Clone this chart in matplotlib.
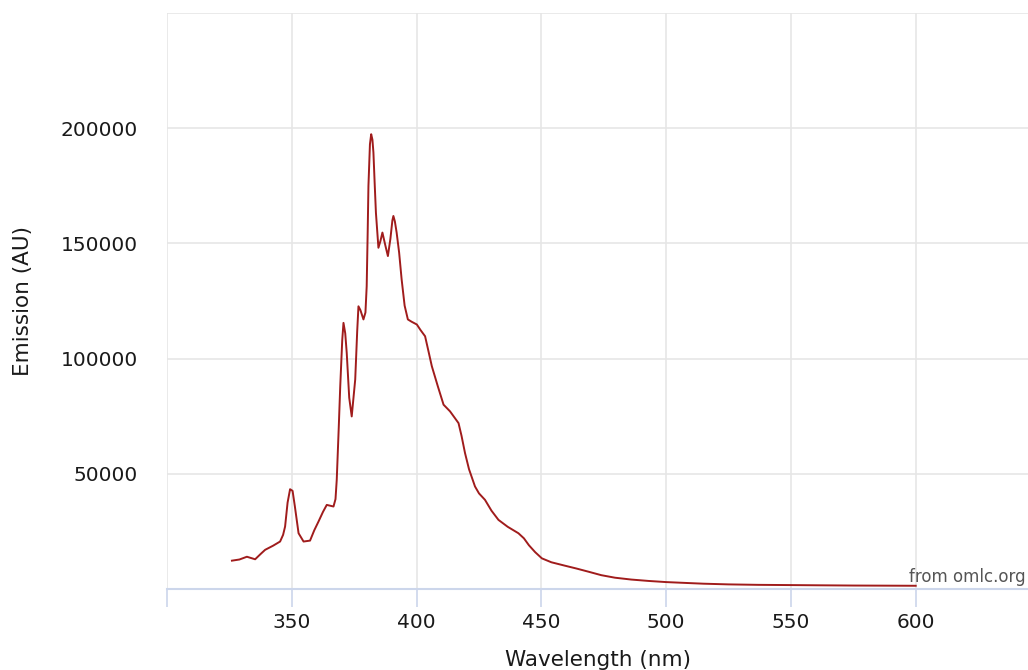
import matplotlib
matplotlib.use("Agg")
from matplotlib import pyplot as plt

# emission spectrum
wavelength = [326, 329, 332, 335.3, 337.5, 339.3, 342.5, 345.3, 346.5, 347.3, 348.3, 349.3,
              350.3, 351.2, 352.7, 354.7, 357.3, 359, 360.7, 362.5, 364, 366.7, 367.5, 368,
              368.8, 369.4, 370.2, 370.7, 371.4, 372, 373, 374, 375.4, 376.2, 376.7, 377.5,
              378.7, 379.5, 380, 380.4, 380.7, 381.3, 381.8, 382.3, 382.7, 383.2, 383.7, 384.7,
              385.5, 386.3, 387.5, 388.5, 389.5, 390.3, 390.7, 391.3, 392, 393, 394, 395.2,
              396.5, 398, 400.1, 401.5, 403.4, 404.8, 406.1, 408.5, 410.8, 413.4, 416.8, 418,
              419.4, 421, 423.4, 425, 427.4, 430, 432.8, 436.5, 440.8, 443, 445, 447.5,
              450.2, 454, 459.5, 464, 468.9, 474, 479.5, 486, 492.9, 500, 506.3, 515,
              525, 537, 550, 562, 575, 588, 600]
emission = [12300, 12800, 14000, 12900, 15200, 17000, 18800, 20600, 23500, 27100, 37500, 43300,
            42600, 36000, 24200, 20600, 21000, 25500, 29300, 33500, 36500, 35800, 39000, 47400,
            70000, 88000, 108000, 115500, 111000, 102500, 83000, 74900, 90900, 112000, 122700, 121000,
            117000, 120000, 131400, 155000, 174900, 193000, 197400, 195000, 189400, 176000, 163300, 148100,
            151000, 154700, 149000, 144500, 152000, 160000, 161900, 159500, 154700, 146000, 134400, 123000,
            117000, 116000, 114800, 112500, 109700, 103000, 96700, 88000, 80000, 77100, 72000, 66500,
            59000, 52000, 44500, 41500, 38700, 34000, 30000, 27000, 24200, 22000, 19000, 16000,
            13300, 11600, 10100, 8900, 7500, 6000, 4900, 4100, 3500, 3000, 2700, 2300,
            2000, 1800, 1700, 1600, 1500, 1450, 1400]

x_ticks = [300, 350, 400, 450, 500, 550, 600]
x_labels = ["", "350", "400", "450", "500", "550", "600"]
y_ticks = [0, 50000, 100000, 150000, 200000, 250000]
y_labels = ["", "50000", "100000", "150000", "200000", ""]

fig = plt.figure(figsize=(10.28, 6.70), dpi=100)
ax = fig.add_axes([0.1625, 0.1209, 0.8375, 0.8597])

ax.plot(wavelength, emission, color="#a01c1c", linewidth=1.4)

ax.set_xlim(300, 645)
ax.set_ylim(0, 250000)
ax.set_xticks(x_ticks)
ax.set_xticklabels(x_labels)
ax.set_yticks(y_ticks)
ax.set_yticklabels(y_labels)

ax.grid(True, color="#e6e6e6", linewidth=1.2)
ax.set_axisbelow(True)
for s in ["top", "right", "left"]:
    ax.spines[s].set_visible(False)
ax.spines["bottom"].set_color("#ccd6eb")
ax.spines["bottom"].set_linewidth(1.5)

ax.tick_params(axis="x", colors="#ccd6eb", length=13, width=1.2, labelcolor="#1a1a1a",
               labelsize=14.5, pad=4)
ax.tick_params(axis="y", length=0, labelcolor="#1a1a1a", labelsize=14.5, pad=21)

ax.set_xlabel("Wavelength (nm)", fontsize=15.5, color="#1a1a1a", labelpad=13)
ax.set_ylabel("Emission (AU)", fontsize=15.5, color="#1a1a1a", labelpad=20)

fig.text(0.998, 0.126, "from omlc.org", ha="right", va="bottom", fontsize=12, color="#555555")

fig.savefig("out.png", dpi=100)
